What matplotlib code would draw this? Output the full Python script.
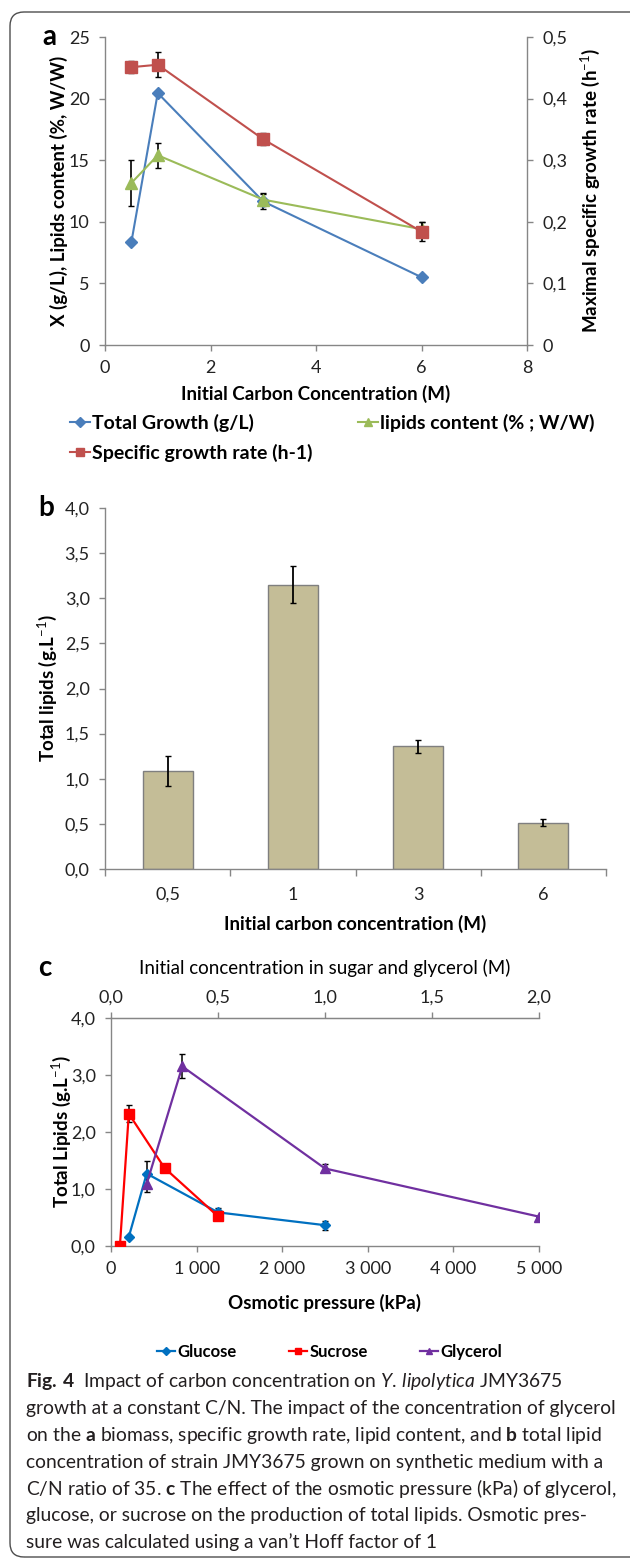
import matplotlib
matplotlib.use("Agg")
import matplotlib.pyplot as plt
from matplotlib.ticker import FuncFormatter, FixedLocator
from matplotlib.lines import Line2D
from matplotlib.patches import FancyBboxPatch

plt.rcParams['font.family'] = ['Lato', 'DejaVu Sans']
plt.rcParams['mathtext.fontset'] = 'custom'
plt.rcParams['mathtext.rm'] = 'Lato'
plt.rcParams['mathtext.it'] = 'Lato:italic'
plt.rcParams['mathtext.bf'] = 'Lato:bold'

# panel a data
conc_a = [0.5, 1, 3, 6]
growth = [8.35, 20.45, 11.65, 5.5]
growth_err = [0, 0, 0.6, 0]
lipid_content = [13.15, 15.4, 11.8, 9.4]
lipid_content_err = [1.9, 1.0, 0.5, 0.6]
growth_rate = [0.451, 0.455, 0.334, 0.184]
growth_rate_err = [0.01, 0.02, 0.01, 0.015]

# panel b data
conc_labels = ['0,5', '1', '3', '6']
total_lipids = [1.09, 3.15, 1.36, 0.515]
total_lipids_err = [0.165, 0.205, 0.07, 0.04]

# panel c data (osmotic pressure kPa, total lipids g/L)
glucose_p = [208, 417, 1250, 2500]
glucose_l = [0.16, 1.27, 0.59, 0.365]
glucose_e = [0, 0.23, 0.08, 0.08]
sucrose_p = [104, 208, 625, 1250]
sucrose_l = [0.0, 2.32, 1.37, 0.52]
sucrose_e = [0, 0.15, 0, 0]
glycerol_p = [417, 833, 2500, 5000]
glycerol_l = [1.09, 3.15, 1.36, 0.515]
glycerol_e = [0.15, 0.21, 0.07, 0]

caption_lines = [
    r"$\mathbf{Fig.\,4}$  Impact of carbon concentration on $\mathit{Y.\,lipolytica}$ JMY3675",
    "growth at a constant C/N. The impact of the concentration of glycerol",
    r"on the $\mathbf{a}$ biomass, specific growth rate, lipid content, and $\mathbf{b}$ total lipid",
    "concentration of strain JMY3675 grown on synthetic medium with a",
    r"C/N ratio of 35. $\mathbf{c}$ The effect of the osmotic pressure (kPa) of glycerol,",
    "glucose, or sucrose on the production of total lipids. Osmotic pres-",
    "sure was calculated using a van’t Hoff factor of 1",
]

W, H = 630, 1562
fig = plt.figure(figsize=(W / 100, H / 100), dpi=100)

SPINE = '#868686'
TICK_FS = 13
LAB_FS = 13.5
PAD = 7


def box(l, t, r, b):
    return [l / W, 1 - b / H, (r - l) / W, (b - t) / H]


def comma(fmt):
    return FuncFormatter(lambda v, p: (fmt % v).replace('.', ','))


def style_axes(ax, spines):
    for s in ['left', 'right', 'top', 'bottom']:
        if s in spines:
            ax.spines[s].set_color(SPINE)
            ax.spines[s].set_linewidth(1.0)
        else:
            ax.spines[s].set_visible(False)
    ax.tick_params(colors=SPINE, labelcolor='#222222', labelsize=TICK_FS, length=4, width=1, pad=PAD)


# ---------- panel a ----------
ax = fig.add_axes(box(105, 37, 527, 345))
style_axes(ax, ['left', 'bottom'])
ax.plot(conc_a, growth, color='#4A7EBB', marker='D', markersize=6, lw=1.5, zorder=3)
ax.errorbar(conc_a, growth, yerr=growth_err, fmt='none', ecolor='black', capsize=2.5, lw=1.2, zorder=2)
ax.plot(conc_a, lipid_content, color='#9BBB59', marker='^', markersize=8.5, lw=1.5, zorder=3)
ax.errorbar(conc_a, lipid_content, yerr=lipid_content_err, fmt='none', ecolor='black', capsize=2.5, lw=1.2, zorder=2)
ax.set_xlim(0, 8)
ax.set_ylim(0, 25)
ax.set_xticks([0, 2, 4, 6, 8])
ax.set_yticks([0, 5, 10, 15, 20, 25])
ax.set_ylabel('X (g/L), Lipids content (%, W/W)', fontsize=LAB_FS, fontweight='bold')
ax.yaxis.set_label_coords(-0.088, 0.5)
ax.set_xlabel('Initial Carbon Concentration (M)', fontsize=LAB_FS, fontweight='bold')
ax.xaxis.set_label_coords(0.5, -0.13)

ax2 = ax.twinx()
style_axes(ax2, ['right'])
ax2.plot(conc_a, growth_rate, color='#C0504D', marker='s', markersize=8.5, lw=1.5, zorder=3)
ax2.errorbar(conc_a, growth_rate, yerr=growth_rate_err, fmt='none', ecolor='black', capsize=2.5, lw=1.2, zorder=2)
ax2.set_ylim(0, 0.5)
ax2.set_yticks([0, 0.1, 0.2, 0.3, 0.4, 0.5])
ax2.yaxis.set_major_formatter(FuncFormatter(lambda v, p: '0' if v == 0 else ('%.1f' % v).replace('.', ',')))
ax2.set_ylabel('Maximal specific growth rate (h$^{-1}$)', fontsize=LAB_FS, fontweight='bold')
ax2.yaxis.set_label_coords(1.123, 0.5)

handles_a = [
    Line2D([], [], color='#4A7EBB', marker='D', markersize=5, lw=1.5),
    Line2D([], [], color='#C0504D', marker='s', markersize=6, lw=1.5),
    Line2D([], [], color='#9BBB59', marker='^', markersize=6, lw=1.5),
]
fig.legend(handles_a, ['Total Growth (g/L)', 'Specific growth rate (h-1)', 'lipids content (% ; W/W)'],
           ncol=2, loc='upper left', bbox_to_anchor=(70 / W, 1 - 414 / H), frameon=False,
           prop={'weight': 'bold', 'size': 14}, handlelength=1.05, handletextpad=0.1,
           columnspacing=2.3, labelspacing=0.62, borderaxespad=0, borderpad=0)

fig.text(42 / W, 1 - 37 / H, 'a', fontsize=20, fontweight='bold', va='center', ha='left')

# ---------- panel b ----------
bx = fig.add_axes(box(105, 508, 606, 869))
style_axes(bx, ['left', 'bottom'])
xpos = list(range(len(conc_labels)))
bx.bar(xpos, total_lipids, width=0.4, color='#C4BD97', edgecolor='#7F7F7F', lw=1.0, zorder=2)
bx.errorbar(xpos, total_lipids, yerr=total_lipids_err, fmt='none', ecolor='black', capsize=2.5, lw=1.3, zorder=3)
bx.set_xlim(-0.5, 3.5)
bx.set_ylim(0, 4)
bx.set_yticks([0, 0.5, 1, 1.5, 2, 2.5, 3, 3.5, 4])
bx.yaxis.set_major_formatter(comma('%.1f'))
bx.set_xticks(xpos)
bx.set_xticklabels(conc_labels)
bx.tick_params(axis='x', length=0, pad=13)
bx.xaxis.set_minor_locator(FixedLocator([-0.5, 0.5, 1.5, 2.5, 3.5]))
bx.tick_params(axis='x', which='minor', length=5, color=SPINE, width=1)
bx.set_ylabel('Total lipids (g.L$^{-1}$)', fontsize=LAB_FS, fontweight='bold')
bx.yaxis.set_label_coords(-0.092, 0.5)
bx.set_xlabel('Initial carbon concentration (M)', fontsize=LAB_FS, fontweight='bold')
bx.xaxis.set_label_coords(0.5, -0.127)

fig.text(38 / W, 1 - 508 / H, 'b', fontsize=20, fontweight='bold', va='center', ha='left')

# ---------- panel c ----------
cx = fig.add_axes(box(111, 1018, 539, 1246))
style_axes(cx, ['left', 'bottom', 'top'])
cx.errorbar(glucose_p, glucose_l, yerr=glucose_e, fmt='none', ecolor='black', capsize=2.5, lw=1.1, zorder=2)
cx.errorbar(sucrose_p, sucrose_l, yerr=sucrose_e, fmt='none', ecolor='black', capsize=2.5, lw=1.1, zorder=2)
cx.errorbar(glycerol_p, glycerol_l, yerr=glycerol_e, fmt='none', ecolor='black', capsize=2.5, lw=1.1, zorder=2)
cx.plot(glucose_p, glucose_l, color='#0070C0', marker='D', markersize=5, lw=1.6, zorder=3)
cx.plot(sucrose_p, sucrose_l, color='#FF0000', marker='s', markersize=7.5, lw=1.6, zorder=3)
cx.plot(glycerol_p, glycerol_l, color='#7030A0', marker='^', markersize=7, lw=1.6, zorder=4)
cx.set_xlim(0, 5000)
cx.set_ylim(0, 4)
cx.set_xticks([0, 1000, 2000, 3000, 4000, 5000])
cx.xaxis.set_major_formatter(FuncFormatter(lambda v, p: '{:,.0f}'.format(v).replace(',', ' ')))
cx.set_yticks([0, 1, 2, 3, 4])
cx.yaxis.set_major_formatter(comma('%.1f'))
cx.set_ylabel('Total Lipids (g.L$^{-1}$)', fontsize=LAB_FS, fontweight='bold')
cx.yaxis.set_label_coords(-0.088, 0.5)
cx.set_xlabel('Osmotic pressure (kPa)', fontsize=LAB_FS, fontweight='bold')
cx.xaxis.set_label_coords(0.5, -0.21)

top = cx.secondary_xaxis('top', functions=(lambda p: p / 2500, lambda m: m * 2500))
top.set_xticks([0, 0.5, 1, 1.5, 2])
top.xaxis.set_major_formatter(comma('%.1f'))
top.spines['top'].set_color(SPINE)
top.tick_params(colors=SPINE, labelcolor='#222222', labelsize=TICK_FS, length=4, width=1, pad=5)
fig.text(325 / W, 1 - 968 / H, 'Initial concentration in sugar and glycerol (M)',
         fontsize=LAB_FS, ha='center', va='center')

handles_c = [
    Line2D([], [], color='#0070C0', marker='D', markersize=4, lw=1.6),
    Line2D([], [], color='#FF0000', marker='s', markersize=5, lw=1.6),
    Line2D([], [], color='#7030A0', marker='^', markersize=5, lw=1.6),
]
fig.legend(handles_c, ['Glucose', 'Sucrose', 'Glycerol'], ncol=3, loc='center left',
           bbox_to_anchor=(157 / W, 1 - 1352 / H), frameon=False,
           prop={'weight': 'bold', 'size': 12}, handlelength=1.1, handletextpad=0.15,
           columnspacing=3.1, borderaxespad=0, borderpad=0)

fig.text(38 / W, 1 - 968 / H, 'c', fontsize=20, fontweight='bold', va='center', ha='left')

# ---------- caption ----------
for i, line in enumerate(caption_lines):
    fig.text(26 / W, 1 - (1382 + i * 26.7) / H, line, fontsize=13.9, color='#231F20',
             va='center', ha='left')

# rounded frame
frame = FancyBboxPatch((0.10, 0.05), 6.5, 15.45, boxstyle='round,pad=0,rounding_size=0.14',
                       transform=fig.dpi_scale_trans, fill=False, edgecolor='#4D4D4D', lw=1.0)
fig.add_artist(frame)

fig.savefig('out.png', dpi=100)
